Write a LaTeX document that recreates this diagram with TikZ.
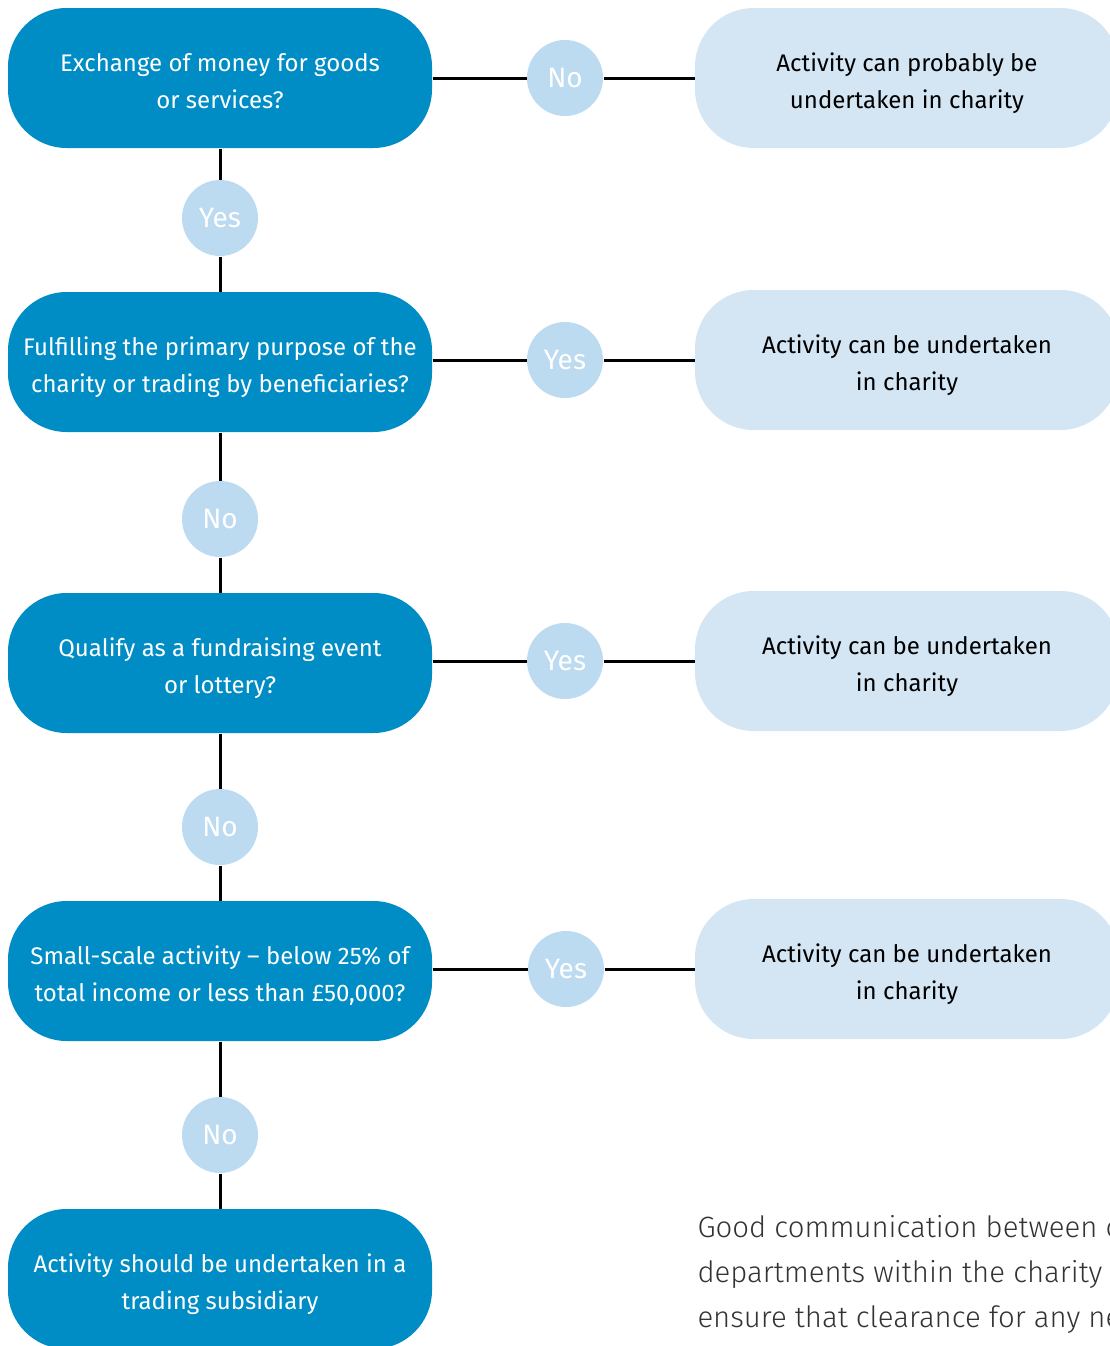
\documentclass[tikz,border=0pt]{standalone}
\usepackage{fontspec}
\setmainfont{Fira Sans}
\newfontfamily\lightfont{Fira Sans Light}
\definecolor{darkblue}{HTML}{008CC5}
\definecolor{paleblue}{HTML}{D4E6F4}
\definecolor{dotblue}{HTML}{BCDAF0}
\definecolor{notegray}{HTML}{333333}

\tikzset{every picture/.style={line width=0.75pt}}
\tikzset{
  qbox/.style={fill=darkblue, text=white, rounded corners=44pt, minimum width=318pt, minimum height=105pt, align=center, inner sep=0pt, text height=49pt, text depth=4pt, font=\fontsize{18}{27.75}\selectfont},
  abox/.style={qbox, fill=paleblue, text=black},
  answer/.style={circle, fill=dotblue, text=white, minimum size=57pt, inner sep=0pt, font=\fontsize{21}{21}\selectfont},
  link/.style={line width=2.25pt, black}
}

\begin{document}
\begin{tikzpicture}[x=0.75pt,y=0.75pt,yscale=-1,xscale=1]

\useasboundingbox (0,0) rectangle (1110,1346);
\clip (0,0) rectangle (1110,1346);

% questions down the left
\node [qbox] (q1) at (220,78) {Exchange of money for goods\\or services?};
\node [qbox] (q2) at (220,362) {Fulfilling the primary purpose of the\\charity or trading by beneficiaries?};
\node [qbox] (q3) at (220,663) {Qualify as a fundraising event\\or lottery?};
\node [qbox] (q4) at (220,971) {Small-scale activity – below 25\% of\\total income or less than £50,000?};
\node [qbox] (sub) at (220,1279) {Activity should be undertaken in a\\trading subsidiary};

% outcomes on the right
\node [abox] (a1) at (907,78) {Activity can probably be\\undertaken in charity};
\node [abox] (a2) at (907,360) {Activity can be undertaken\\in charity};
\node [abox] (a3) at (907,661) {Activity can be undertaken\\in charity};
\node [abox] (a4) at (907,969) {Activity can be undertaken\\in charity};

% answers
\node [answer] (n1) at (565,78) {No};
\node [answer] (y1) at (220,218) {Yes};
\node [answer] (y2) at (565,360) {Yes};
\node [answer] (n2) at (220,519) {No};
\node [answer] (y3) at (565,661) {Yes};
\node [answer] (n3) at (220,827) {No};
\node [answer] (y4) at (566,969) {Yes};
\node [answer] (n4) at (220,1135) {No};

\draw [link] (q1) -- (n1) -- (a1);
\draw [link] (q1) -- (y1) -- (q2);
\draw [link] (q2.east |- y2) -- (y2) -- (a2);
\draw [link] (q2) -- (n2) -- (q3);
\draw [link] (q3.east |- y3) -- (y3) -- (a3);
\draw [link] (q3) -- (n3) -- (q4);
\draw [link] (q4.east |- y4) -- (y4) -- (a4);
\draw [link] (q4) -- (n4) -- (sub);

\node [anchor=base west, align=left, inner sep=0pt, text=notegray, font=\lightfont\fontsize{22}{33.75}\selectfont] (note) at (697,1327) {Good communication between c\\departments within the charity\\ensure that clearance for any ne};

\end{tikzpicture}
\end{document}
